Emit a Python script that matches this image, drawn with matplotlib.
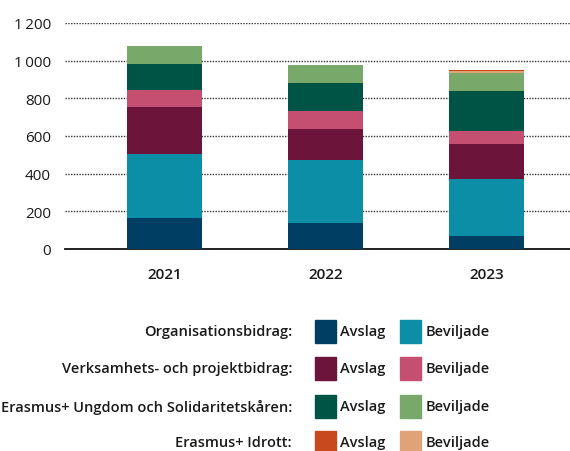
import numpy as np
import matplotlib.pyplot as plt
from matplotlib.patches import Rectangle
from matplotlib import font_manager

print(sorted(set((f.name, f.weight) for f in font_manager.fontManager.ttflist
                 if f.name in ('Noto Sans', 'Open Sans', 'Inter', 'Lato'))))

plt.rcParams['font.family'] = ['Open Sans', 'DejaVu Sans']

years = ['2021', '2022', '2023']

# values (number of applications)
org_avslag = [165, 138, 69]
org_beviljade = [337, 335, 301]
verk_avslag = [252, 164, 188]
verk_beviljade = [92, 96, 69]
eras_avslag = [136, 148, 212]
eras_beviljade = [96, 96, 97]
idr_beviljade = [0, 0, 8]
idr_avslag = [0, 0, 6]

groups = ['Organisationsbidrag:', 'Verksamhets- och projektbidrag:',
          'Erasmus+ Ungdom och Solidaritetskåren:', 'Erasmus+ Idrott:']
group_colors = [('#003f63', '#0b8ea6'), ('#6d143b', '#c44f70'),
                ('#005446', '#78a96a'), ('#c8491e', '#e0a378')]

stack = [(org_avslag, '#003f63'), (org_beviljade, '#0b8ea6'),
         (verk_avslag, '#6d143b'), (verk_beviljade, '#c44f70'),
         (eras_avslag, '#005446'), (eras_beviljade, '#78a96a'),
         (idr_beviljade, '#e0a378'), (idr_avslag, '#c8491e')]

fig = plt.figure(figsize=(5.7, 4.52), dpi=100)
ax = fig.add_axes([0.114, 0.447, 0.886, 0.5])

x = np.arange(len(years))
bottom = np.zeros(len(years))
for vals, col in stack:
    ax.bar(x, vals, bottom=bottom, width=0.47, color=col, zorder=3)
    bottom += np.array(vals)

ax.set_xlim(-0.62, 2.52)
ax.set_ylim(0, 1200)
ax.set_yticks(range(0, 1201, 200))
ax.set_yticklabels(['0', '200', '400', '600', '800', '1\u2009000', '1\u2009200'])
ax.set_xticks(x)
ax.set_xticklabels(years, fontweight='semibold')
ax.yaxis.grid(True, linestyle=(0, (1, 1)), color='#333333', linewidth=1, zorder=0)
for s in ['top', 'right', 'left']:
    ax.spines[s].set_visible(False)
ax.spines['bottom'].set_color('#111111')
ax.spines['bottom'].set_linewidth(1.3)
ax.tick_params(axis='both', length=0, labelsize=11, colors='#1a1a1a')
ax.tick_params(axis='y', pad=10)
ax.tick_params(axis='x', pad=13)
for lab in ax.get_yticklabels():
    lab.set_fontweight('medium')

# legend
W, H = 570, 452
rows_y = [332, 369, 407, 443]
for name, (ca, cb), yy in zip(groups, group_colors, rows_y):
    fy = 1 - yy / H
    fig.text(292 / W, fy, name, ha='right', va='center', fontsize=10.5,
             fontweight='semibold', color='#1a1a1a')
    fig.add_artist(Rectangle((315 / W, fy - 11.5 / H), 21 / W, 23 / H,
                             color=ca, transform=fig.transFigure))
    fig.text(340 / W, fy, 'Avslag', ha='left', va='center', fontsize=10.5,
             fontweight='semibold', color='#1a1a1a')
    fig.add_artist(Rectangle((400 / W, fy - 11.5 / H), 21 / W, 23 / H,
                             color=cb, transform=fig.transFigure))
    fig.text(426 / W, fy, 'Beviljade', ha='left', va='center', fontsize=10.5,
             fontweight='semibold', color='#1a1a1a')

fig.savefig('out.png', dpi=100)
